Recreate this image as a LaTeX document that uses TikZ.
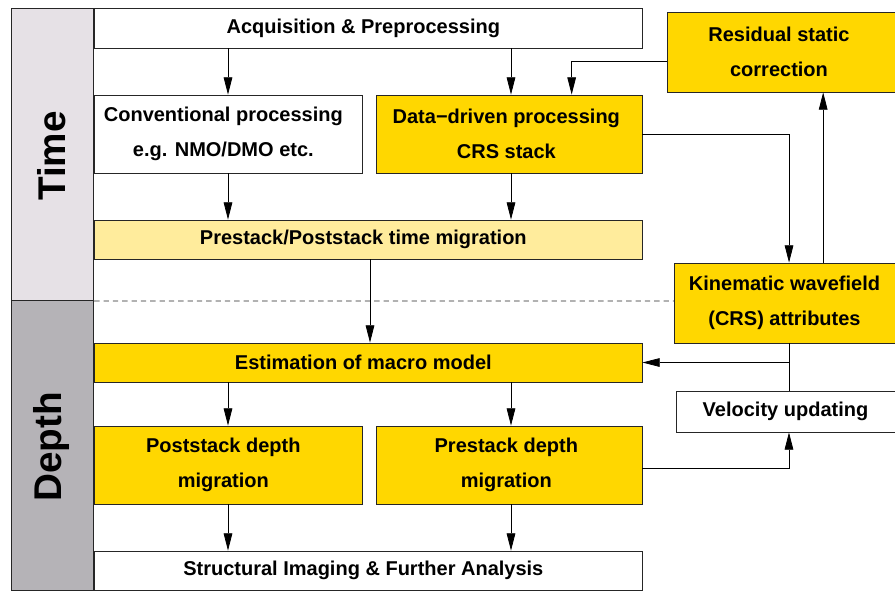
\documentclass[tikz,border=0pt]{standalone}
\usepackage{fontspec}
\setmainfont{Liberation Sans}
\usetikzlibrary{arrows.meta}
\definecolor{boxgold}{HTML}{FFD700}
\definecolor{boxpale}{HTML}{FFEC9C}
\definecolor{timebar}{HTML}{E6E1E6}
\definecolor{depthbar}{HTML}{B5B3B7}
\tikzset{
  stagebox/.style={draw=black!85, line width=0.6pt, inner sep=0pt, align=center,
    font=\bfseries\fontsize{15}{26}\selectfont},
  flow/.style={line width=0.6pt, -{Triangle[length=13pt,width=6.5pt]}},
  link/.style={line width=0.6pt}
}
\begin{document}
\begin{tikzpicture}[x=0.75pt,y=-0.75pt]
    \useasboundingbox (0,0) rectangle (895,592);
    
    % Drawing domain bars
    \node[draw=black!85, line width=0.6pt, fill=timebar, minimum width=62pt, minimum height=219pt] (timebar) at (52.5,154.5) {};
    \node[draw=black!85, line width=0.6pt, fill=depthbar, minimum width=62pt, minimum height=217.5pt] (depthbar) at (52.5,445.5) {};
    \node[rotate=90, font=\bfseries\fontsize{29}{29}\selectfont] (timelbl) at (52,156) {Time};
    \node[rotate=90, font=\bfseries\fontsize{29}{29}\selectfont] (depthlbl) at (52,447) {Depth};
    
    % Drawing time/depth separator
    \draw[link, dash pattern=on 4pt off 3pt, black!85] (timebar.south east) -- (674,301);
    
    % Drawing processing boxes
    \node[stagebox, fill=white, minimum width=411pt, minimum height=30pt] (acq) at (368,28) {Acquisition \& Preprocessing\hspace*{7pt}};
    \node[stagebox, fill=white, minimum width=201pt, minimum height=58.5pt] (conv) at (228,134) {Conventional processing\hspace*{7pt}\\e.g. NMO/DMO etc.\hspace*{7pt}};
    \node[stagebox, fill=boxgold, minimum width=199.5pt, minimum height=58.5pt] (crs) at (509,134) {Data−driven processing\hspace*{4pt}\\CRS stack\hspace*{4pt}};
    \node[stagebox, fill=boxpale, minimum width=411pt, minimum height=29.25pt] (tmig) at (368,239.5) {Prestack/Poststack time migration\hspace*{7pt}};
    \node[stagebox, fill=boxgold, minimum width=171pt, minimum height=60pt] (resid) at (781,52) {Residual static\hspace*{3pt}\\correction\hspace*{3pt}};
    \node[stagebox, fill=boxgold, minimum width=165.75pt, minimum height=60pt] (kin) at (784.5,303) {Kinematic wavefield\\(CRS) attributes};
    \node[stagebox, fill=boxgold, minimum width=411pt, minimum height=29.25pt] (macro) at (368,362.5) {Estimation of macro model\hspace*{7pt}};
    \node[stagebox, fill=white, minimum width=164.25pt, minimum height=30.75pt] (vel) at (785.5,411.5) {Velocity updating};
    \node[stagebox, fill=boxgold, minimum width=201pt, minimum height=58.5pt] (post) at (228,465) {Poststack depth\hspace*{7pt}\\migration\hspace*{7pt}};
    \node[stagebox, fill=boxgold, minimum width=199.5pt, minimum height=58.5pt] (pre) at (509,465) {Prestack depth\hspace*{4pt}\\migration\hspace*{4pt}};
    \node[stagebox, fill=white, minimum width=411pt, minimum height=29.25pt] (imag) at (368,570.5) {Structural Imaging \& Further Analysis\hspace*{7pt}};
    
    % Drawing main flow
    \draw[flow] (acq.south -| conv.north) -- (conv.north);
    \draw[flow] ([xshift=1.5pt]acq.south -| crs.north) -- ([xshift=1.5pt]crs.north);
    \draw[flow] (conv.south) -- (conv.south |- tmig.north);
    \draw[flow] ([xshift=1.5pt]crs.south) -- ([xshift=1.5pt]crs.south |- tmig.north);
    \draw[flow] ([xshift=1.5pt]tmig.south) -- ([xshift=1.5pt]macro.north);
    \draw[flow] (macro.south -| post.north) -- (post.north);
    \draw[flow] ([xshift=1.5pt]macro.south -| pre.north) -- ([xshift=1.5pt]pre.north);
    \draw[flow] (post.south) -- (post.south |- imag.north);
    \draw[flow] ([xshift=1.5pt]pre.south) -- ([xshift=1.5pt]pre.south |- imag.north);
    
    % Drawing feedback loop
    \draw[flow] ([yshift=-6.75pt]resid.west) -| ([xshift=47pt]crs.north);
    \draw[flow] (crs.east) -| ([xshift=3.4pt]kin.north);
    \draw[flow] ([xshift=29pt]kin.north) -- ([xshift=29pt]kin.north |- resid.south);
    \draw[link] ([xshift=3.4pt]kin.south) -- ([xshift=3.4pt]kin.south |- vel.north);
    \draw[flow] ([xshift=3.4pt]kin.south |- macro.east) -- (macro.east);
    \draw[flow] ([yshift=-2.25pt]pre.east) -| ([xshift=2.6pt]vel.south);
\end{tikzpicture}
\end{document}
